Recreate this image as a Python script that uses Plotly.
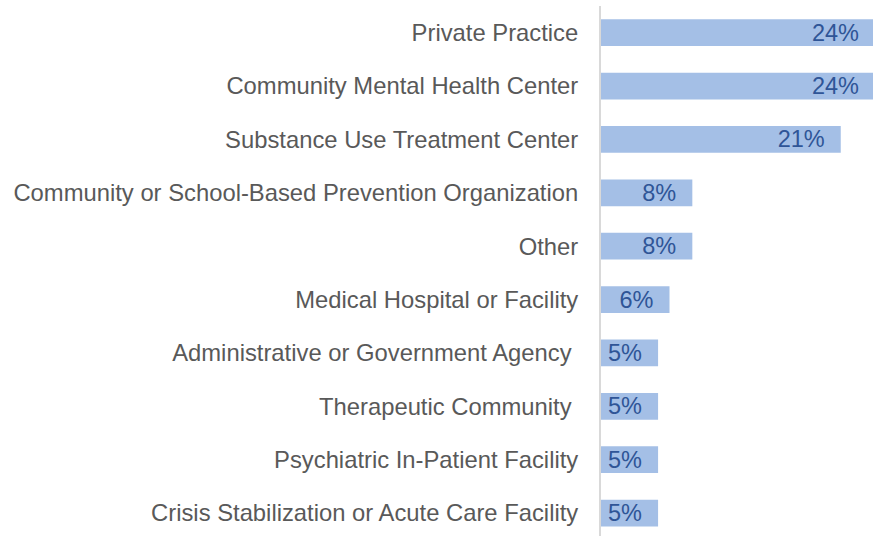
import plotly.graph_objects as go

categories = [
    "Private Practice",
    "Community Mental Health Center",
    "Substance Use Treatment Center",
    "Community or School-Based Prevention Organization",
    "Other",
    "Medical Hospital or Facility",
    "Administrative or Government Agency\u00a0",
    "Therapeutic Community\u00a0",
    "Psychiatric In-Patient Facility",
    "Crisis Stabilization or Acute Care Facility",
]
values = [24, 24, 21, 8, 8, 6, 5, 5, 5, 5]
labels = [f"{v}%\u00a0\u00a0" for v in values]

FONT = "Arial, 'Liberation Sans', sans-serif"

fig = go.Figure(
    go.Bar(
        x=values,
        y=categories,
        orientation="h",
        text=labels,
        textposition="inside",
        insidetextanchor="end",
        constraintext="none",
        textangle=0,
        marker=dict(color="#A4BFE6", line=dict(width=0)),
        textfont=dict(family=FONT, size=23.5, color="#2F5597"),
        hoverinfo="skip",
    )
)

fig.update_layout(
    width=875,
    height=536,
    margin=dict(l=601, r=0, t=6, b=0),
    paper_bgcolor="white",
    plot_bgcolor="white",
    bargap=0.5,
    showlegend=False,
)
fig.update_xaxes(
    range=[0, 24],
    visible=False,
    showgrid=False,
    zeroline=False,
)
fig.update_yaxes(
    type="category",
    categoryorder="array",
    categoryarray=categories,
    range=[9.43, -0.5],
    showline=True,
    linecolor="#D9D9D9",
    linewidth=2,
    showgrid=False,
    zeroline=False,
    ticks="",
    ticklabelstandoff=16,
    tickfont=dict(family=FONT, size=23.8, color="#595959"),
)

fig.write_html(
    "out.html",
    config={"displayModeBar": False, "staticPlot": True},
    post_script="document.body.style.margin='0';document.body.style.overflow='hidden';",
)
